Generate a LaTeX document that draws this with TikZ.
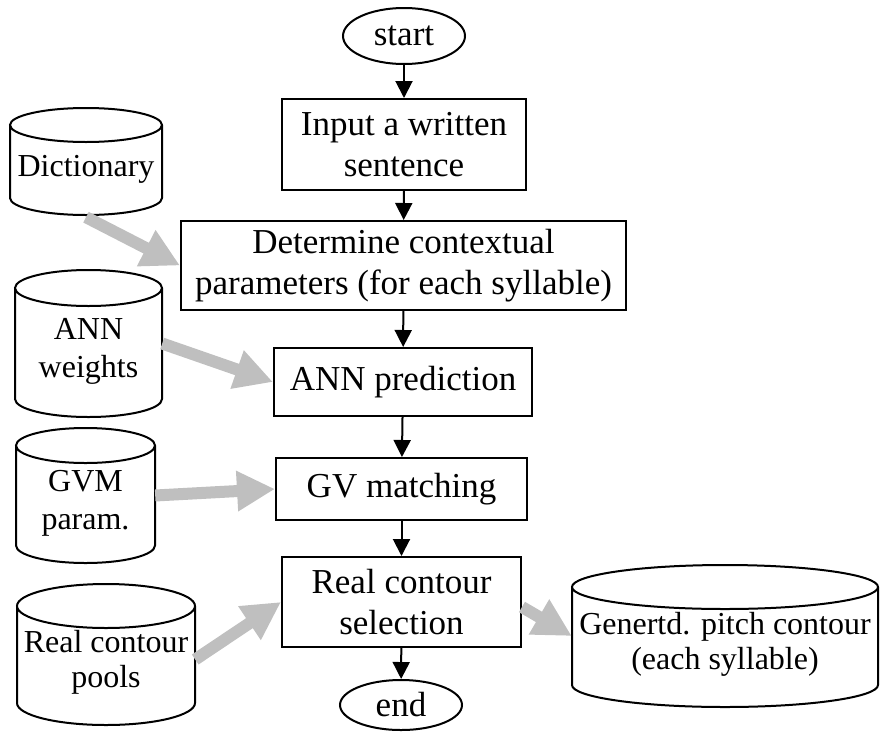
\documentclass[tikz,border=0pt]{standalone}
\usepackage{fontspec}
\setmainfont{Liberation Serif}
\usetikzlibrary{arrows.meta,shapes.geometric}

\tikzset{
  lbl/.style={font=\fontsize{35}{41}\selectfont, align=center, inner sep=0pt},
  dblbl/.style={font=\fontsize{32}{38}\selectfont, align=center, inner sep=0pt},
  stepbox/.style={draw, line width=2pt, rectangle, lbl},
  term/.style={draw, line width=2pt, ellipse, lbl},
  flow/.style={line width=2pt, -{Triangle[length=17pt,width=17pt]}},
  feed/.style={line width=12pt, draw=lightgray, -{Triangle[length=38pt,width=38pt]}},
  dbline/.style={line width=2pt},
  dbframe/.style={rectangle, draw=none, inner sep=0pt},
}

% database cylinder: name, centre x, top y, bottom y, x radius, y radius, text
\newcommand\dbcyl[7]{%
  \node[dbframe, minimum width=#5*2pt, minimum height=#4pt-#3pt] (#1) at (#2,{-(#3+#4)/2}) {};
  \draw[dbline] (#2-#5,{-#3-#6}) -- (#2-#5,{-#4+#6})
     arc[start angle=180,end angle=360,x radius=#5pt,y radius=#6pt]
     -- (#2+#5,{-#3-#6})
     arc[start angle=0,end angle=360,x radius=#5pt,y radius=#6pt];
  \node[dblbl] (#1-txt) at ([yshift=-8pt]#1.center) {#7};
}

\begin{document}
\begin{tikzpicture}[x=1pt,y=1pt]
\useasboundingbox (0,0) rectangle (880,-731);

% main flow
\node[term, minimum width=122pt, minimum height=56pt] (start) at (404,-36) {start};
\node[stepbox, minimum width=244pt, minimum height=91pt] (in) at (404,-144.5) {Input a written\\sentence};
\node[stepbox, minimum width=445pt, minimum height=89pt] (det) at (403.5,-265.5) {Determine contextual\\parameters (for each syllable)};
\node[stepbox, minimum width=258pt, minimum height=68pt] (ann) at (403,-382) {ANN prediction};
\node[stepbox, minimum width=251pt, minimum height=62pt] (gv) at (401.5,-489) {GV matching};
\node[stepbox, minimum width=239pt, minimum height=90pt] (rc) at (401.5,-602) {Real contour\\selection};
\node[term, minimum width=122pt, minimum height=50pt] (end) at (401,-705) {end};

% data stores
\dbcyl{dict}{86}{108}{215}{76}{17}{Dictionary}
\dbcyl{annw}{88.5}{270}{417}{73.5}{18}{ANN\\weights}
\dbcyl{gvm}{85.5}{428}{563}{69.5}{17.5}{GVM\\param.}
\begin{scope}
\tikzset{dblbl/.append style={font=\fontsize{32}{35}\selectfont}}
\dbcyl{pools}{106}{584}{725}{89}{22}{Real contour\\pools}
\dbcyl{gen}{725}{565}{707}{153}{22}{Genertd. pitch contour\\(each syllable)}
\end{scope}

% control flow
\draw[flow] (start) -- (in);
\draw[flow] (in) -- (det);
\draw[flow] (det) -- (ann);
\draw[flow] (ann) -- (gv);
\draw[flow] (gv) -- (rc);
\draw[flow] (rc) -- (end);

% data flow
\draw[feed] ([yshift=-2pt]dict.south) -- (det.west);
\draw[feed] (annw.east) -- (ann.west);
\draw[feed] (gvm.east) -- (gv.west);
\draw[feed] ([yshift=-5pt]pools.east) -- (rc.west);
\draw[feed] ([yshift=-5pt]rc.east) -- (gen.west);
\end{tikzpicture}
\end{document}
